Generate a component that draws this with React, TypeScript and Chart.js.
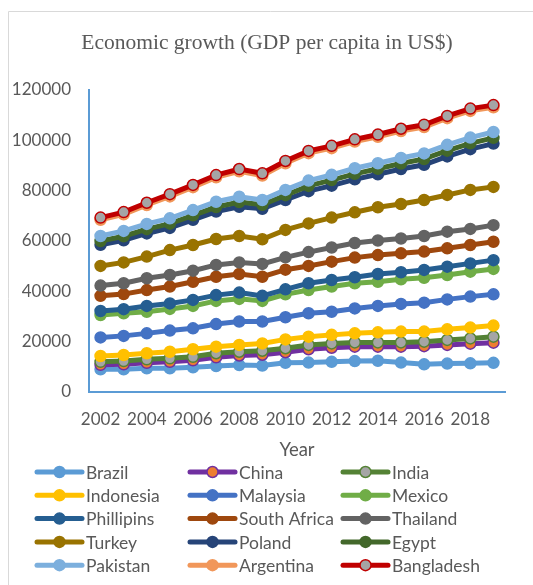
import React, { useEffect, useRef } from "react";
import { Chart, registerables } from "chart.js";

Chart.register(...registerables);

const years = ["2002","2003","2004","2005","2006","2007","2008","2009","2010","2011","2012","2013","2014","2015","2016","2017","2018","2019"];
const xTickYears = ["2002","2004","2006","2008","2010","2012","2014","2016","2018"];
const yTickValues = [0, 20000, 40000, 60000, 80000, 100000, 120000];

const brazil = [9000, 9000, 9400, 9400, 9800, 10300, 10700, 10500, 11600, 11700, 12000, 12300, 12400, 11700, 11000, 11300, 11400, 11600];
const china = [10800, 11000, 11600, 12000, 12600, 13800, 14500, 14800, 15800, 17000, 17600, 18000, 18000, 18000, 18200, 18700, 19200, 19600];
const india = [12000, 12300, 13000, 13400, 14000, 15400, 16000, 16400, 17400, 18700, 19300, 19700, 19700, 19700, 20000, 20700, 21300, 22000];
const indonesia = [14300, 14700, 15400, 16000, 17000, 18000, 18700, 19300, 20900, 22000, 22700, 23300, 23700, 24000, 24000, 24900, 25600, 26400];
const malaysia = [21700, 22300, 23300, 24400, 25300, 27000, 28000, 28000, 29700, 31300, 31900, 33200, 34200, 35000, 35500, 36800, 37900, 38800];
const mexico = [30600, 31300, 31900, 33000, 34200, 36200, 37000, 36200, 38800, 40500, 41900, 43200, 43800, 44800, 45400, 46500, 47800, 48900];
const phillipins = [32200, 32900, 34200, 35200, 36600, 38500, 39500, 38200, 40800, 43200, 44500, 45600, 46900, 47600, 48500, 49800, 51100, 52400];
const southAfrica = [38200, 38900, 40500, 41900, 43800, 45800, 46900, 45800, 48600, 50100, 51800, 53400, 54400, 55100, 55800, 57100, 58400, 59700];
const thailand = [42300, 43200, 45200, 46500, 48200, 50500, 51500, 50900, 53500, 55600, 57400, 59200, 60200, 61000, 62000, 63700, 64800, 66300];
const turkey = [50100, 51500, 53800, 56400, 58400, 60800, 62000, 60700, 64400, 67000, 69300, 71400, 73400, 74700, 76300, 78300, 80300, 81500];
const poland = [58500, 60300, 63000, 65200, 68400, 71700, 73600, 72800, 76300, 79800, 82000, 84500, 86500, 88600, 90300, 93600, 96500, 98700];
const egypt = [60000, 61900, 64700, 66900, 70200, 73500, 75500, 74400, 78200, 81900, 84200, 86700, 88700, 90800, 92600, 95900, 98800, 101000];
const pakistan = [62000, 64000, 66800, 69000, 72300, 75600, 77600, 76300, 80300, 84000, 86300, 88900, 90900, 93000, 94800, 98200, 101100, 103300];
const argentina = [68400, 70600, 74300, 77700, 81400, 85300, 87700, 86000, 90900, 94900, 96900, 99500, 101400, 103700, 105300, 108800, 111700, 113100];
const bangladesh = [69300, 71500, 75200, 78600, 82300, 86200, 88600, 86900, 91800, 95800, 97800, 100400, 102300, 104600, 106200, 109700, 112600, 114000];

const seriesNames = ["Brazil","China","India","Indonesia","Malaysia","Mexico","Phillipins","South Africa","Thailand","Turkey","Poland","Egypt","Pakistan","Argentina","Bangladesh"];
const seriesValues = [brazil, china, india, indonesia, malaysia, mexico, phillipins, southAfrica, thailand, turkey, poland, egypt, pakistan, argentina, bangladesh];
const lineColors = ["#5B9BD5","#7030A0","#548235","#FFC000","#4472C4","#70AD47","#255E91","#9E480E","#636363","#997300","#264478","#43682B","#7CAFDD","#F1975A","#C00000"];
const markerFill = ["#5B9BD5","#ED7D31","#A5A5A5","#FFC000","#4472C4","#70AD47","#255E91","#9E480E","#636363","#997300","#264478","#43682B","#7CAFDD","#F1975A","#A5A5A5"];

const FONT = "Lato";
const TEXT = "#595959";

const decorPlugin = {
  id: "decor",
  afterDraw(chart: any) {
    const ctx = chart.ctx;
    ctx.save();
    // chart frame
    ctx.strokeStyle = "#D9D9D9";
    ctx.lineWidth = 1;
    ctx.beginPath();
    ctx.moveTo(8.5, 585);
    ctx.lineTo(8.5, 11.5);
    ctx.lineTo(533, 11.5);
    ctx.stroke();
    // title
    ctx.fillStyle = TEXT;
    ctx.font = "21.5px 'Liberation Serif'";
    ctx.textAlign = "center";
    ctx.textBaseline = "middle";
    ctx.fillText("Economic growth (GDP per capita in US$)", 267, 43);
    // axis title
    const ca = chart.chartArea;
    ctx.font = `18.5px ${FONT}`;
    ctx.fillText("Year", (ca.left + ca.right) / 2, 450);
    // legend
    ctx.font = `17.5px ${FONT}`;
    ctx.textAlign = "left";
    chart.data.datasets.forEach((ds: any, i: number) => {
      const col = i % 3;
      const row = Math.floor(i / 3);
      const x0 = 37 + col * 153;
      const y = 472 + row * 23.3;
      ctx.strokeStyle = ds.borderColor;
      ctx.lineWidth = 5;
      ctx.lineCap = "round";
      ctx.beginPath();
      ctx.moveTo(x0, y);
      ctx.lineTo(x0 + 45, y);
      ctx.stroke();
      ctx.beginPath();
      ctx.arc(x0 + 22.5, y, 5.5, 0, Math.PI * 2);
      ctx.fillStyle = ds.pointBackgroundColor;
      ctx.fill();
      ctx.lineWidth = 1.5;
      ctx.strokeStyle = ds.pointBorderColor;
      ctx.stroke();
      ctx.fillStyle = TEXT;
      ctx.fillText(ds.label, x0 + 49, y + 1);
    });
    ctx.restore();
  },
};

export default function App() {
  const ref = useRef<HTMLCanvasElement>(null);
  useEffect(() => {
    if (!ref.current) return;
    const datasets = seriesNames.map((name, i) => ({
      label: name,
      data: seriesValues[i],
      borderColor: lineColors[i],
      backgroundColor: lineColors[i],
      pointBackgroundColor: markerFill[i],
      pointBorderColor: lineColors[i],
      pointBorderWidth: 1.5,
      pointRadius: 5.5,
      borderWidth: 5,
      tension: 0,
      fill: false,
      order: seriesNames.length - i,
    }));
    const chart = new Chart(ref.current, {
      type: "line",
      data: { labels: years, datasets },
      options: {
        animation: false,
        responsive: false,
        events: [],
        layout: { padding: { top: 90, right: 28, left: 0, bottom: 0 } },
        plugins: { legend: { display: false }, title: { display: false }, tooltip: { enabled: false } },
        scales: {
          x: {
            type: "category",
            offset: true,
            grid: { display: false, drawTicks: false },
            border: { display: true, color: "#5B9BD5", width: 2 },
            ticks: {
              autoSkip: false,
              maxRotation: 0,
              padding: 17,
              color: TEXT,
              font: { family: FONT, size: 17 },
              callback: (_v: any, idx: number) => (xTickYears.includes(years[idx]) ? years[idx] : ""),
            },
            afterFit: (scale: any) => { scale.height = 193; },
          },
          y: {
            min: 0,
            max: 120000,
            grid: { display: false, drawTicks: false },
            border: { display: true, color: "#5B9BD5", width: 2 },
            afterBuildTicks: (scale: any) => { scale.ticks = yTickValues.map((v) => ({ value: v })); },
            ticks: {
              padding: 18,
              color: TEXT,
              font: { family: FONT, size: 17 },
              callback: (v: any) => String(v),
            },
            afterFit: (scale: any) => { scale.width = 89; },
          },
        },
      },
      plugins: [decorPlugin],
    });
    return () => chart.destroy();
  }, []);
  return (
    <div style={{ position: "absolute", left: 0, top: 0, width: 533, height: 585 }}>
      <canvas ref={ref} width={533} height={585} style={{ display: "block" }} />
    </div>
  );
}
